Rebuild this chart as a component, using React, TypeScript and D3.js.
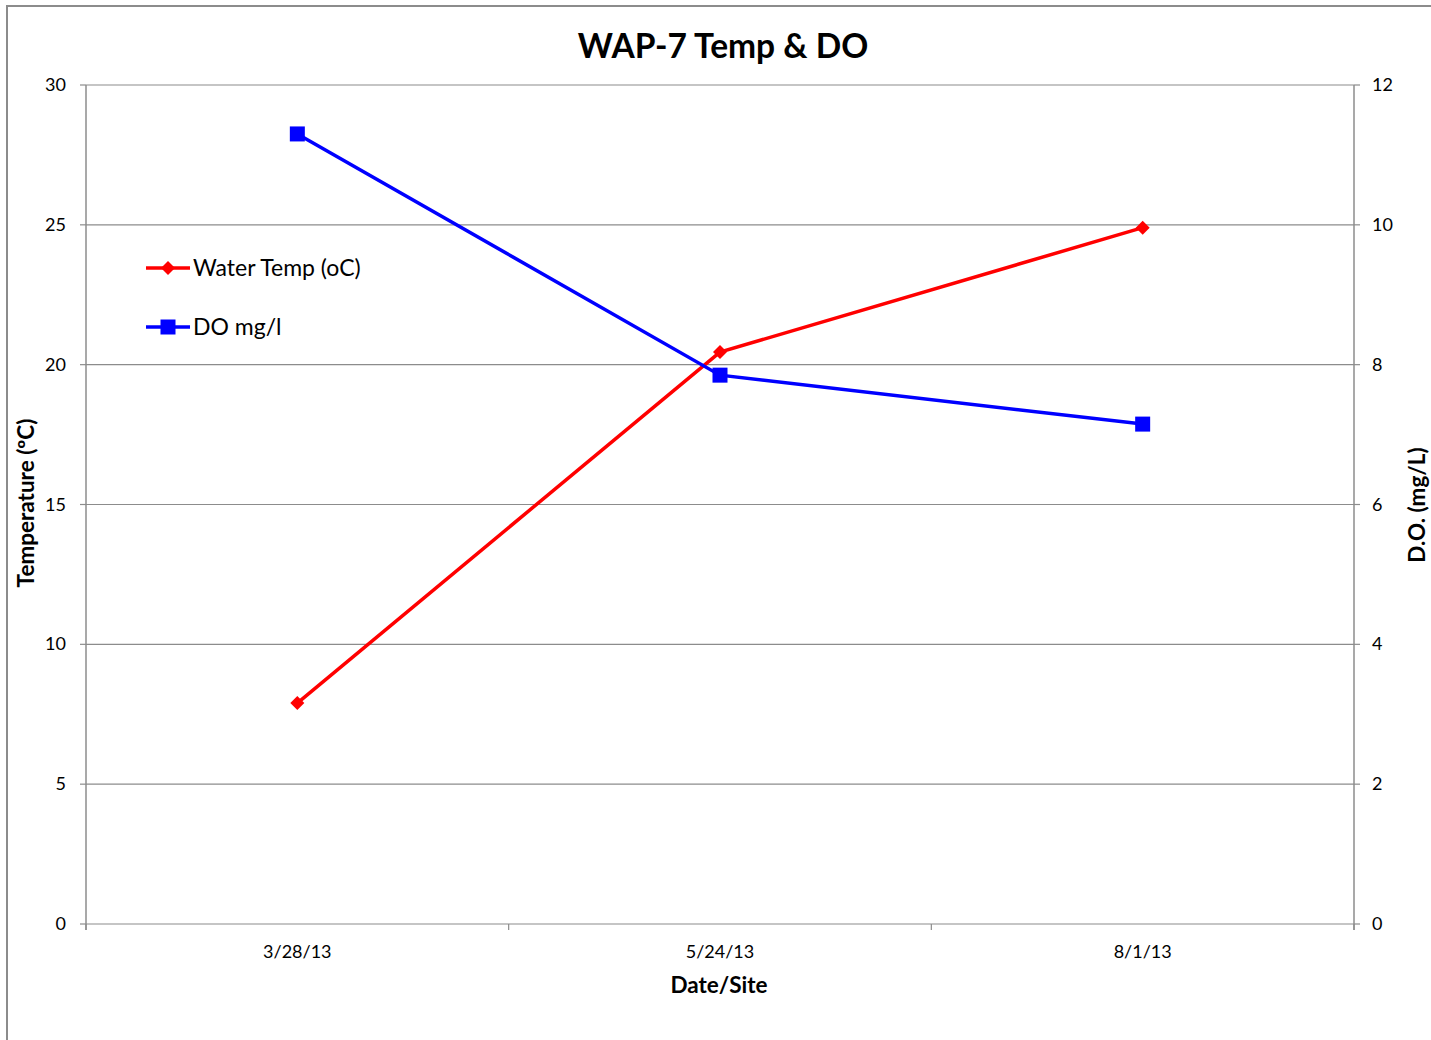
import React from "react";
import * as d3 from "d3";

const categories = ["3/28/13", "5/24/13", "8/1/13"];
const waterTemp = [7.9, 20.45, 24.9];
const doValues = [11.3, 7.85, 7.15];
const leftTicks = [0, 5, 10, 15, 20, 25, 30];
const rightTicks = [0, 2, 4, 6, 8, 10, 12];

const W = 1431;
const H = 1040;
const FONT = "Lato, 'Open Sans', sans-serif";

export default function App() {
  const left = 86, right = 1354, top = 85, bottom = 924;
  const x = d3.scaleBand<string>().domain(categories).range([left, right]).padding(0);
  const yL = d3.scaleLinear().domain([0, 30]).range([bottom, top]);
  const yR = d3.scaleLinear().domain([0, 12]).range([bottom, top]);
  const cx = (c: string) => (x(c) as number) + x.bandwidth() / 2;

  const lineT = d3.line<number>().x((_, i) => cx(categories[i])).y((d) => yL(d));
  const lineD = d3.line<number>().x((_, i) => cx(categories[i])).y((d) => yR(d));
  const boundaries = [left, ...categories.map((c) => (x(c) as number) + x.bandwidth())];
  const grid = "#8c8c8c";

  const diamond = (px: number, py: number, s: number, key: any) => (
    <path key={key} d={`M${px},${py - s}L${px + s},${py}L${px},${py + s}L${px - s},${py}Z`} fill="#ff0000" />
  );
  const square = (px: number, py: number, s: number, key: any) => (
    <rect key={key} x={px - s} y={py - s} width={2 * s} height={2 * s} fill="#0000ff" />
  );

  return (
    <svg width={W} height={H} style={{ position: "absolute", left: 0, top: 0 }} fontFamily={FONT}>
      <rect x={0} y={0} width={W} height={H} fill="#fff" />
      <rect x={7} y={6} width={W + 10} height={H + 10} fill="none" stroke="#8c8c8c" strokeWidth={2} />
      <text x={723} y={58} textAnchor="middle" fontSize={33.5} fontWeight="bold" fill="#000">WAP-7 Temp &amp; DO</text>

      {leftTicks.map((t) => (
        <g key={"g" + t}>
          <line x1={left} x2={right} y1={yL(t)} y2={yL(t)} stroke={grid} strokeWidth={1.2} />
          <line x1={left - 6} x2={left} y1={yL(t)} y2={yL(t)} stroke={grid} strokeWidth={1.2} />
          <text x={66} y={yL(t) + 6} textAnchor="end" fontSize={18} fill="#000">{t}</text>
        </g>
      ))}
      {rightTicks.map((t) => (
        <g key={"r" + t}>
          <line x1={right} x2={right + 6} y1={yR(t)} y2={yR(t)} stroke={grid} strokeWidth={1.2} />
          <text x={1372} y={yR(t) + 6} textAnchor="start" fontSize={18} fill="#000">{t}</text>
        </g>
      ))}
      <line x1={left} x2={left} y1={top} y2={bottom + 6} stroke={grid} strokeWidth={1.5} />
      <line x1={right} x2={right} y1={top} y2={bottom + 6} stroke={grid} strokeWidth={1.5} />
      {boundaries.map((b, i) => (
        <line key={"b" + i} x1={b} x2={b} y1={bottom} y2={bottom + 6} stroke={grid} strokeWidth={1.2} />
      ))}
      {categories.map((c) => (
        <text key={c} x={cx(c)} y={958} textAnchor="middle" fontSize={18} fill="#000">{c}</text>
      ))}
      <text x={719} y={993} textAnchor="middle" fontSize={22.5} fontWeight="bold" fill="#000">Date/Site</text>
      <text transform={`translate(34,${503}) rotate(-90)`} textAnchor="middle" fontSize={22.5} fontWeight="bold" fill="#000">Temperature (ºC)</text>
      <text transform={`translate(1425,${505}) rotate(-90)`} textAnchor="middle" fontSize={22.5} fontWeight="bold" fill="#000">D.O. (mg/L)</text>

      <path d={lineT(waterTemp) || ""} fill="none" stroke="#ff0000" strokeWidth={3.5} />
      <path d={lineD(doValues) || ""} fill="none" stroke="#0000ff" strokeWidth={3.5} />
      {waterTemp.map((v, i) => diamond(cx(categories[i]), yL(v), 7, "d" + i))}
      {doValues.map((v, i) => square(cx(categories[i]), yR(v), 7.5, "s" + i))}

      <line x1={146} x2={190} y1={268} y2={268} stroke="#ff0000" strokeWidth={3.5} />
      {diamond(168, 268, 7, "ld")}
      <text x={193} y={276} fontSize={23} fill="#000">Water Temp (oC)</text>
      <line x1={146} x2={190} y1={327} y2={327} stroke="#0000ff" strokeWidth={3.5} />
      {square(168, 327, 7.5, "ls")}
      <text x={193} y={335} fontSize={23} fill="#000">DO mg/l</text>
    </svg>
  );
}
